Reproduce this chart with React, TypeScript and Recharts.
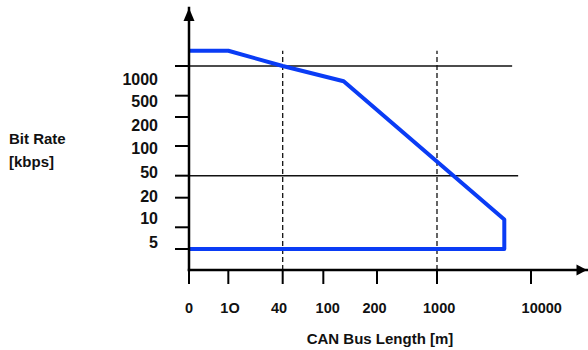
import { Line, LineChart, ReferenceLine, XAxis, YAxis } from 'recharts'

const xTicks = [0, 10, 40, 100, 200, 1000, 10000]
const xTickLabels = ['0', '1O', '40', '100', '200', '1000', '10000']
const yTicks = [5, 10, 20, 50, 100, 200, 500, 1000]
const xDomain = [0, 20000]
const yDomain = [2, 2000]

// bus length (m) vs bit rate (kbps), outline traced clockwise
const busLength = [0, 10, 40, 130, 5200, 5200, 0]
const bitRate = [1200, 1200, 1000, 700, 12, 5, 5]

// thin horizontal lines and dashed verticals
const gridRates = [1000, 50]
const gridEnds = [6300, 7300]
const markedLengths = [40, 1000]
const markTop = 1200

// the axes are hand drawn: where each tick / label sits along its axis (0..1)
const xTickPos = [0, 0.0988, 0.2354, 0.3375, 0.4724, 0.6231, 0.8593]
const xLabelPos = [0.0138, 0.103, 0.2261, 0.3485, 0.4661, 0.6286, 0.8864]
const yTickPos = [0.0802, 0.163, 0.276, 0.36, 0.4733, 0.584, 0.6653, 0.7786]
const yLabelPos = [0.1057, 0.1954, 0.2817, 0.374, 0.4656, 0.5534, 0.6443, 0.7282]

const BLUE = '#0a3cf5'
const INK = '#111'

// piecewise scale: log between positive stops, linear from 0
function handScale(stops: number[], fr: number[]): any {
  let out = [0, 1]
  const frac = (v: number) => {
    let i = 0
    while (i < stops.length - 2 && v > stops[i + 1]) i++
    const a = stops[i]
    const b = stops[i + 1]
    const t = a > 0 && v > 0 ? Math.log(v / a) / Math.log(b / a) : (v - a) / (b - a)
    return fr[i] + t * (fr[i + 1] - fr[i])
  }
  const s: any = (v: number) => out[0] + frac(v) * (out[1] - out[0])
  s.domain = (d?: number[]) => (d ? s : [stops[0], stops[stops.length - 1]])
  s.range = (r?: number[]) => {
    if (!r) return out
    out = [r[0], r[1]]
    return s
  }
  s.copy = () => handScale(stops, fr).range(out)
  s.ticks = () => stops.slice(1, -1)
  return s
}

function axisScale(domain: number[], ticks: number[], pos: number[]) {
  const vals = [domain[0], ...ticks, domain[1]]
  const fr = [0, ...pos, 1]
  const stops: number[] = []
  const at: number[] = []
  vals.forEach((v, i) => {
    if (stops.length && stops[stops.length - 1] === v) return
    stops.push(v)
    at.push(fr[i])
  })
  return handScale(stops, at)
}

const noText = () => <g />

const xArrow = ({ viewBox }: any) => {
  const { x, y, width } = viewBox
  const tip = x + width
  return <polygon points={`${tip},${y} ${tip - 10.5},${y - 5.5} ${tip - 10.5},${y + 5.5}`} fill="#000" />
}

const yArrow = ({ viewBox }: any) => {
  const { x, y, width } = viewBox
  const ax = x + width
  return <polygon points={`${ax},${y} ${ax - 5.5},${y + 13} ${ax + 5.5},${y + 13}`} fill="#000" />
}

const xTitle = ({ viewBox }: any) => (
  <text x={viewBox.x + 191} y={viewBox.y + 59.5} textAnchor="middle" fontSize={15} fontWeight={700} fill={INK}>
    CAN Bus Length [m]
  </text>
)

const yTitle = ({ viewBox }: any) => {
  const mid = viewBox.y + viewBox.height / 2
  return (
    <text fontSize={15} fontWeight={700} fill={INK}>
      <tspan x={viewBox.x + 9} y={mid + 4.5}>Bit Rate</tspan>
      <tspan x={viewBox.x + 9} y={mid + 27.5}>[kbps]</tspan>
    </text>
  )
}

export default function App() {
  const curve = busLength.map((x, i) => ({ x, rate: bitRate[i] }))
  const axisLine = { stroke: '#000', strokeWidth: 2.5, strokeLinecap: 'square' as const }
  const tickLine = { stroke: '#000', strokeWidth: 2 }

  return (
    <div style={{ position: 'absolute', left: 0, top: 0, fontFamily: '"Liberation Sans", Arial, sans-serif' }}>
      <LineChart width={588} height={350} margin={{ top: 8, right: 1, bottom: 0, left: 0 }}>
        <XAxis
          xAxisId="text"
          type="number"
          domain={xDomain}
          allowDataOverflow
          scale={axisScale(xDomain, xTicks, xLabelPos)}
          ticks={xTicks}
          interval={0}
          tickFormatter={(v: number) => xTickLabels[xTicks.indexOf(v)]}
          tick={{ fill: INK, fontSize: 14.5, fontWeight: 700 }}
          tickSize={0}
          tickMargin={19}
          height={66}
          axisLine={false}
          tickLine={false}
          label={xTitle}
        />
        <YAxis
          yAxisId="text"
          type="number"
          domain={yDomain}
          allowDataOverflow
          scale={axisScale(yDomain, yTicks, yLabelPos)}
          ticks={yTicks}
          interval={0}
          tick={{ fill: INK, fontSize: 16, fontWeight: 700 }}
          tickSize={0}
          tickMargin={17}
          width={175}
          axisLine={false}
          tickLine={false}
          label={yTitle}
        />
        <XAxis
          xAxisId="axis"
          type="number"
          dataKey="x"
          domain={xDomain}
          allowDataOverflow
          scale={axisScale(xDomain, xTicks, xTickPos)}
          ticks={xTicks}
          interval={0}
          tick={noText}
          tickSize={14}
          height={14}
          axisLine={axisLine}
          tickLine={tickLine}
          label={xArrow}
        />
        <YAxis
          yAxisId="axis"
          type="number"
          domain={yDomain}
          allowDataOverflow
          scale={axisScale(yDomain, yTicks, yTickPos)}
          ticks={yTicks}
          interval={0}
          tick={noText}
          tickSize={14}
          width={14}
          axisLine={axisLine}
          tickLine={tickLine}
          label={yArrow}
        />
        {gridRates.map((r, i) => (
          <ReferenceLine
            key={`rate-${r}`}
            xAxisId="axis"
            yAxisId="axis"
            segment={[{ x: xDomain[0], y: r }, { x: gridEnds[i], y: r }]}
            stroke={INK}
            strokeWidth={1.4}
            ifOverflow="visible"
          />
        ))}
        {markedLengths.map((m) => (
          <ReferenceLine
            key={`len-${m}`}
            xAxisId="axis"
            yAxisId="axis"
            segment={[{ x: m, y: yDomain[0] }, { x: m, y: markTop }]}
            stroke={INK}
            strokeWidth={1.3}
            strokeDasharray="5 3"
            ifOverflow="visible"
          />
        ))}
        <Line
          xAxisId="axis"
          yAxisId="axis"
          data={curve}
          dataKey="rate"
          type="linear"
          stroke={BLUE}
          strokeWidth={4}
          strokeLinejoin="round"
          dot={false}
          activeDot={false}
          isAnimationActive={false}
        />
      </LineChart>
    </div>
  )
}
